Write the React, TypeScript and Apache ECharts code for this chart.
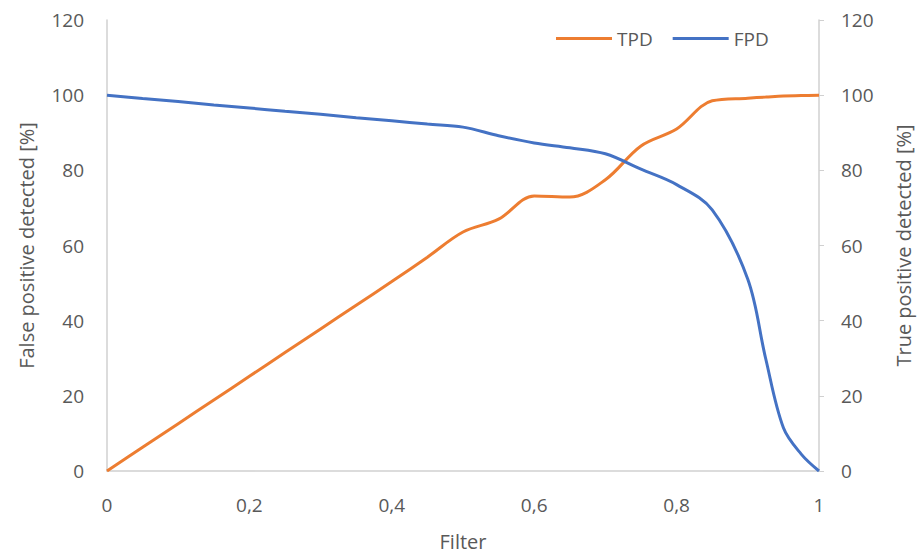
import React, { useEffect, useRef } from "react";
import * as echarts from "echarts";

const filterValues = [0, 0.05, 0.1, 0.15, 0.2, 0.25, 0.3, 0.35, 0.4, 0.45, 0.5, 0.55, 0.6, 0.65, 0.7, 0.75, 0.8, 0.85, 0.9, 0.925, 0.95, 0.975, 1];
const tpdValues = [0, 6.3, 12.6, 18.9, 25.2, 31.5, 37.8, 44.1, 50.4, 56.9, 63.6, 67, 73.2, 72.9, 77.5, 86.5, 91, 98.5, 99.2, 99.5, 99.8, 99.9, 100];
const fpdValues = [100, 99.1, 98.3, 97.4, 96.6, 95.7, 94.9, 94, 93.2, 92.3, 91.5, 89.2, 87.3, 86, 84.4, 80.3, 76.2, 69.5, 51, 30, 11.5, 4.5, 0];
const yTicks = [0, 20, 40, 60, 80, 100, 120];

const FONT = "'Open Sans', sans-serif";
const GREY = "#595959";

export default function App() {
  const ref = useRef<HTMLDivElement>(null);
  useEffect(() => {
    document.body.style.margin = "0";
    const chart = echarts.init(ref.current!, null, { renderer: "svg" });
    const fmtX = (v: number) => {
      if (v === 0 || v === 1) return String(v);
      return v.toFixed(1).replace(".", ",");
    };
    const yAxisBase = (pos: "left" | "right", name: string, tick: boolean) => ({
      type: "value",
      position: pos,
      min: yTicks[0],
      max: yTicks[yTicks.length - 1],
      interval: 20,
      name,
      nameLocation: "middle",
      nameGap: pos === "left" ? 71 : 74,
      nameTextStyle: { color: GREY, fontSize: 20, fontFamily: FONT },
      axisLine: { show: true, lineStyle: { color: "#d0d0d0", width: 1.5 } },
      axisTick: { show: tick, length: 5, lineStyle: { color: "#d0d0d0" } },
      splitLine: { show: false },
      axisLabel: { color: GREY, fontSize: 19, fontFamily: FONT, margin: pos === "left" ? 23 : 22 },
    });
    chart.setOption({
      animation: false,
      backgroundColor: "#ffffff",
      grid: { left: 107, right: 102, top: 20, bottom: 86, outerBoundsMode: "none", containLabel: false },
      legend: {
        left: 551,
        top: 24,
        itemWidth: 56,
        itemHeight: 3,
        itemGap: 20,
        icon: "rect",
        textStyle: { color: GREY, fontSize: 19, fontFamily: FONT },
        data: ["TPD", "FPD"],
      },
      xAxis: {
        type: "value",
        min: 0,
        max: 1,
        interval: 0.2,
        name: "Filter",
        nameLocation: "middle",
        nameGap: 60,
        nameTextStyle: { color: GREY, fontSize: 20, fontFamily: FONT },
        axisLine: { show: true, lineStyle: { color: "#d0d0d0", width: 1.5 } },
        axisTick: { show: false },
        splitLine: { show: false },
        axisLabel: { color: GREY, fontSize: 19, fontFamily: FONT, margin: 24, formatter: fmtX },
      },
      yAxis: [
        yAxisBase("left", "False positive detected [%]", false),
        yAxisBase("right", "True positive detected [%]", true),
      ],
      series: [
        {
          name: "TPD",
          type: "line",
          yAxisIndex: 1,
          smooth: 0.35,
          symbol: "none",
          lineStyle: { color: "#ED7D31", width: 3 },
          itemStyle: { color: "#ED7D31" },
          data: filterValues.map((x, i) => [x, tpdValues[i]]),
        },
        {
          name: "FPD",
          type: "line",
          yAxisIndex: 0,
          smooth: 0.35,
          symbol: "none",
          lineStyle: { color: "#4472C4", width: 3 },
          itemStyle: { color: "#4472C4" },
          data: filterValues.map((x, i) => [x, fpdValues[i]]),
        },
      ],
    });
    return () => chart.dispose();
  }, []);
  return <div ref={ref} style={{ width: 921, height: 557 }} />;
}
